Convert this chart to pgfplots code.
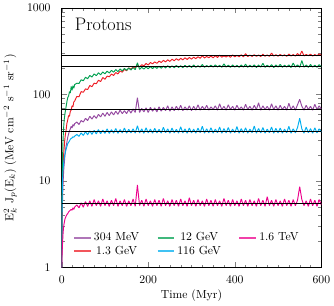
\documentclass[border=0pt]{standalone}
\usepackage{pgfplots}
\pgfplotsset{compat=1.18}
\definecolor{cpur}{RGB}{148,72,160}
\definecolor{cred}{RGB}{237,28,36}
\definecolor{cgrn}{RGB}{0,160,80}
\definecolor{cblu}{RGB}{0,174,239}
\definecolor{cpnk}{RGB}{236,0,140}
\begin{document}
\begin{tikzpicture}
\begin{axis}[
  scale only axis, width=222pt, height=222pt,
  xmin=0, xmax=600, ymode=log, ymin=1, ymax=1000,
  xtick={0,200,400,600}, minor x tick num=7,
  ytick={1,10,100,1000}, yticklabels={1,10,100,1000},
  tick align=inside, major tick length=4.5pt, minor tick length=2.5pt,
  xticklabel style={yshift=-4pt}, yticklabel style={xshift=-6pt},
  xlabel={Time (Myr)},
  ylabel={E$_k^2$ J$_p$(E$_k$) (MeV cm$^{-2}$ s$^{-1}$ sr$^{-1}$)},
  ylabel style={yshift=2pt},
  xlabel style={yshift=2pt},
  every axis plot/.append style={line width=0.8pt, line join=bevel},
  legend style={draw=none, fill=none, at={(0.03,0.025)}, anchor=south west,
    legend columns=3, /tikz/every even column/.append style={column sep=13pt},
    font=\normalsize, row sep=-1pt},
  legend image code/.code={\draw[#1, line width=1.5pt, opacity=0.75] (0cm,0cm) -- (0.5cm,0cm);},
]
\addlegendimage{cpur}\addlegendentry{304 MeV}
\addlegendimage{cgrn}\addlegendentry{12 GeV}
\addlegendimage{cpnk}\addlegendentry{1.6 TeV}
\addlegendimage{cred}\addlegendentry{1.3 GeV}
\addlegendimage{cblu}\addlegendentry{116 GeV}

% 304 MeV
\addplot[cpur, forget plot] coordinates {
(0,1)(1,3)(2,6)(3,9)(4,11.5)(5,14)(6,16)(8,21)(10,25)(12,28)(14,32)(16,35)(18,38)(20,40)(22,43)(24,41)(26,45)(28,43)(30,46)
(35,48)(40,45)(45,50)(50,48)(55,53)(60,50)(65,56)(70,52)(75,57)(80,53)(85,59)(90,55)(95,61)(100,56)(105,62)(110,57)(115,63)(120,58)(125,64)(130,59)(135,66)(140,60)(145,65)(150,60)(155,67)(160,61)(165,68)(170,62)(175,92)(180,62)(185,69)(190,63)(195,70)(200,62)(205,71)(210,64)(215,70)(220,63)(225,72)(230,64)(235,71)(240,65)(245,74)(250,64)(255,72)(260,65)(265,73)(270,66)(275,75)(280,65)(285,72)(290,66)(295,74)(300,65)(305,73)(310,66)(315,76)(320,66)(325,73)(330,67)(335,75)(340,66)(345,72)(350,67)(355,74)(360,66)(365,78)(370,67)(375,73)(380,66)(385,76)(390,67)(395,73)(400,66)(405,75)(410,67)(415,72)(420,66)(425,77)(430,67)(435,73)(440,66)(445,75)(450,67)(455,80)(460,66)(465,74)(470,67)(475,73)(480,66)(485,78)(490,67)(495,74)(500,66)(505,75)(510,67)(515,73)(520,66)(525,79)(530,67)(535,74)(540,66)(545,76)(550,88)(555,73)(560,66)(565,75)(570,67)(575,73)(580,66)(585,77)(590,67)(595,74)(600,68)
};
% 1.3 GeV
\addplot[cred, forget plot] coordinates {
(0,1)(1,5)(2,9)(3,14)(4,18)(5,22)(6,25)(8,33)(10,38)(12,46)(14,51)(16,57)(18,56)(20,64)(22,66)(24,74)(26,72)(28,82)(30,84)
(35,95)(40,94)(45,108)(50,106)(55,116)(60,114)(65,127)(70,123)(75,135)(80,133)(85,146)(90,141)(95,157)(100,150)(105,163)(110,160)(115,172)(120,166)(125,179)(130,173)(135,187)(140,181)(145,195)(150,188)(155,203)(160,196)(165,209)(170,201)(175,222)(180,207)(185,221)(190,214)(195,228)(200,219)(205,234)(210,226)(215,238)(220,229)(225,243)(230,234)(235,248)(240,238)(245,252)(250,241)(255,256)(260,245)(265,259)(270,248)(275,262)(280,251)(285,265)(290,254)(295,268)(300,256)(305,270)(310,259)(315,273)(320,262)(325,279)(330,264)(335,275)(340,266)(345,278)(350,265)(355,280)(360,268)(365,284)(370,270)(375,279)(380,271)(385,282)(390,269)(395,286)(400,272)(405,283)(410,273)(415,287)(420,272)(425,296)(430,274)(435,285)(440,275)(445,288)(450,276)(455,286)(460,274)(465,292)(470,277)(475,286)(480,276)(485,301)(490,278)(495,288)(500,277)(505,290)(510,279)(515,287)(520,276)(525,293)(530,279)(535,289)(540,278)(545,297)(550,280)(555,318)(560,279)(565,290)(570,281)(575,292)(580,278)(585,289)(590,280)(595,294)(600,283)
};
% 12 GeV
\addplot[cgrn, forget plot] coordinates {
(0,1)(1,8)(2,18)(3,28)(4,37)(5,45)(6,52)(8,62)(10,71)(12,82)(14,92)(16,96)(18,108)(20,104)(22,124)(24,112)(26,126)(28,118)(30,130)
(35,135)(40,134)(45,148)(50,144)(55,158)(60,152)(65,166)(70,159)(75,173)(80,165)(85,178)(90,169)(95,182)(100,173)(105,186)(110,177)(115,190)(120,181)(125,194)(130,184)(135,197)(140,187)(145,200)(150,190)(155,202)(160,192)(165,204)(170,194)(175,232)(180,195)(185,206)(190,197)(195,208)(200,198)(205,210)(210,199)(215,211)(220,200)(225,212)(230,201)(235,213)(240,202)(245,215)(250,203)(255,214)(260,204)(265,216)(270,205)(275,215)(280,204)(285,217)(290,206)(295,216)(300,205)(305,219)(310,206)(315,215)(320,207)(325,222)(330,206)(335,216)(340,208)(345,218)(350,207)(355,220)(360,208)(365,217)(370,206)(375,226)(380,207)(385,218)(390,206)(395,219)(400,207)(405,217)(410,206)(415,219)(420,207)(425,224)(430,206)(435,218)(440,207)(445,220)(450,205)(455,219)(460,207)(465,229)(470,206)(475,218)(480,207)(485,221)(490,205)(495,219)(500,207)(505,223)(510,206)(515,218)(520,207)(525,220)(530,205)(535,231)(540,207)(545,220)(550,206)(555,246)(560,207)(565,219)(570,206)(575,222)(580,207)(585,218)(590,206)(595,221)(600,208)
};
% 116 GeV
\addplot[cblu, forget plot] coordinates {
(0,1)(1,6)(2,10)(3,13)(4,15)(5,17)(6,18.5)(8,21)(10,23)(12,25)(14,27)(16,28)(18,29)(20,30.5)(22,31)(24,31.5)(26,32.5)(28,32)(30,33)
(35,34.5)(40,32.8)(45,36.0)(50,33.6)(55,37.2)(60,34.2)(65,38.0)(70,34.6)(75,38.5)(80,35.0)(85,39.3)(90,35.2)(95,38.8)(100,35.5)(105,40.1)(110,35.4)(115,39.2)(120,35.8)(125,40.5)(130,35.6)(135,39.4)(140,35.9)(145,41.0)(150,35.7)(155,39.6)(160,36.0)(165,40.2)(170,35.8)(175,43.5)(180,35.9)(185,40.0)(190,35.6)(195,41.2)(200,36.0)(205,39.8)(210,35.7)(215,40.6)(220,36.0)(225,39.5)(230,35.8)(235,41.8)(240,36.1)(245,40.0)(250,35.7)(255,40.9)(260,36.0)(265,39.6)(270,35.8)(275,42.3)(280,36.0)(285,40.1)(290,35.6)(295,41.0)(300,36.0)(305,39.7)(310,35.8)(315,40.8)(320,36.1)(325,43.0)(330,35.7)(335,40.2)(340,36.0)(345,41.3)(350,35.8)(355,39.9)(360,36.1)(365,42.0)(370,35.7)(375,40.4)(380,36.0)(385,41.6)(390,35.8)(395,39.8)(400,36.1)(405,42.5)(410,35.7)(415,40.3)(420,36.0)(425,41.1)(430,35.8)(435,39.9)(440,36.1)(445,43.2)(450,35.7)(455,40.5)(460,36.0)(465,41.4)(470,35.8)(475,39.8)(480,36.1)(485,42.1)(490,35.7)(495,40.6)(500,36.0)(505,41.0)(510,35.8)(515,39.7)(520,36.1)(525,42.8)(530,35.7)(535,40.2)(540,36.0)(545,41.5)(550,53.0)(555,40.0)(560,35.8)(565,42.0)(570,36.1)(575,40.3)(580,35.7)(585,41.2)(590,36.0)(595,40.0)(600,36.8)
};
% 1.6 TeV
\addplot[cpnk, forget plot] coordinates {
(0,1)(1,1.5)(2,1.9)(3,2.4)(4,2.8)(5,3.1)(6,3.3)(8,3.7)(10,3.9)(12,4.1)(14,4.2)(16,4.4)(18,4.5)(20,4.6)(22,4.7)(24,4.6)(26,4.9)(28,4.7)(30,5.0)
(35,5.3)(40,4.9)(45,5.6)(50,5.0)(55,5.8)(60,5.1)(65,5.9)(70,5.1)(75,6.1)(80,5.2)(85,5.9)(90,5.1)(95,6.2)(100,5.2)(105,5.9)(110,5.1)(115,6.0)(120,5.2)(125,6.3)(130,5.1)(135,5.9)(140,5.2)(145,6.1)(150,5.1)(155,5.9)(160,5.2)(165,6.2)(170,5.1)(175,9.0)(180,5.2)(185,6.0)(190,5.1)(195,6.2)(200,5.2)(205,5.9)(210,5.1)(215,6.1)(220,5.2)(225,6.0)(230,5.1)(235,6.3)(240,5.2)(245,5.9)(250,5.1)(255,6.1)(260,5.2)(265,6.0)(270,5.1)(275,6.2)(280,5.2)(285,5.9)(290,5.1)(295,6.4)(300,5.2)(305,6.0)(310,5.1)(315,6.1)(320,5.2)(325,5.9)(330,5.1)(335,6.2)(340,5.2)(345,6.0)(350,5.1)(355,6.1)(360,5.2)(365,5.9)(370,5.1)(375,6.3)(380,5.2)(385,6.0)(390,5.1)(395,6.1)(400,5.2)(405,5.9)(410,5.1)(415,6.2)(420,5.2)(425,6.0)(430,5.1)(435,6.1)(440,5.2)(445,5.9)(450,5.1)(455,6.3)(460,5.2)(465,6.0)(470,5.1)(475,6.6)(480,5.2)(485,6.0)(490,5.1)(495,6.1)(500,5.2)(505,5.9)(510,5.1)(515,6.2)(520,5.2)(525,6.0)(530,5.1)(535,6.1)(540,5.2)(545,6.0)(550,8.6)(555,6.1)(560,5.2)(565,5.9)(570,5.1)(575,6.2)(580,5.2)(585,6.0)(590,5.1)(595,6.1)(600,5.3)
};
% asymptotic levels
\addplot[black, line width=0.6pt, forget plot] coordinates {(0,282)(600,282)};
\addplot[black, line width=0.6pt, forget plot] coordinates {(0,212)(600,212)};
\addplot[black, line width=0.6pt, forget plot] coordinates {(0,68)(600,68)};
\addplot[black, line width=0.6pt, forget plot] coordinates {(0,37.4)(600,37.4)};
\addplot[black, line width=0.6pt, forget plot] coordinates {(0,5.5)(600,5.5)};
\node[anchor=north west, font=\fontsize{15.5}{18}\selectfont] at (rel axis cs:0.035,0.975) {Protons};
\end{axis}
\end{tikzpicture}
\end{document}
